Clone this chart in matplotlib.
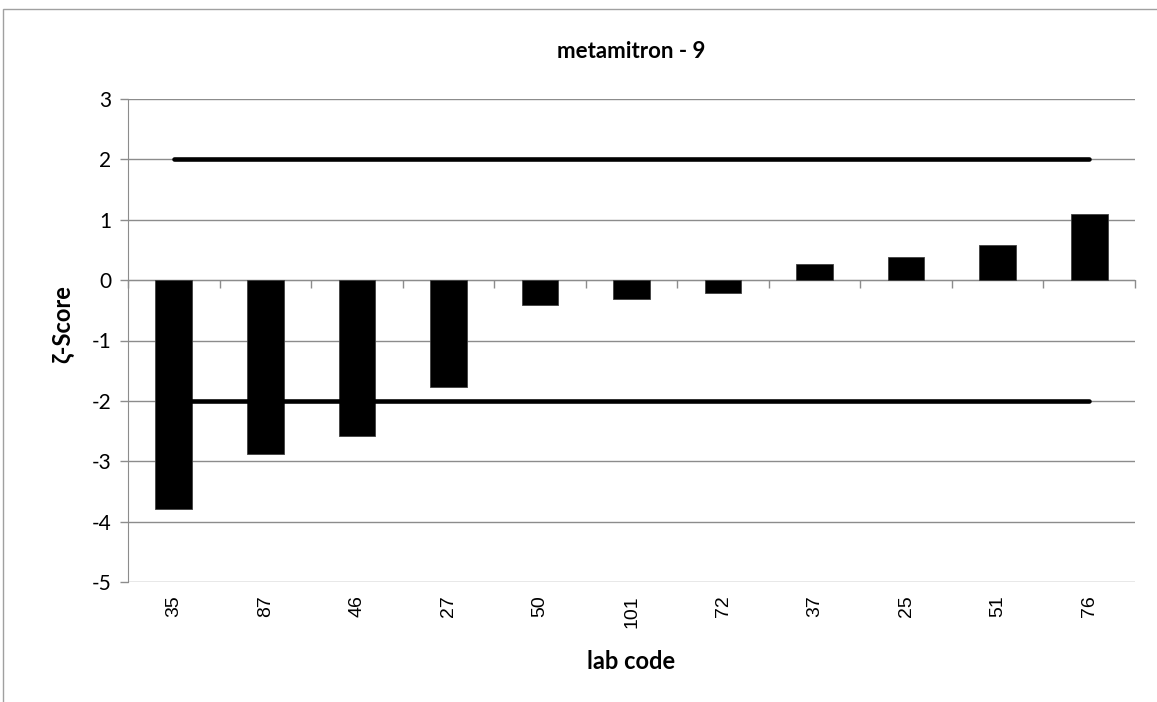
#ζスコア 棒グラフ (metamitron - 9)

import numpy as np
import matplotlib.pyplot as plt
from matplotlib.patches import Rectangle

# データ
lab_codes = ['35', '87', '46', '27', '50', '101', '72', '37', '25', '51', '76']
z_scores = [-3.79, -2.88, -2.58, -1.77, -0.41, -0.32, -0.22, 0.26, 0.39, 0.58, 1.10]
upper_limit = 2
lower_limit = -2
y_ticks = [-5, -4, -3, -2, -1, 0, 1, 2, 3]

grid_col = '#8c8c8c'
n = len(lab_codes)
x = np.arange(n)

fig = plt.figure(figsize=(11.57, 7.02), dpi=100)
ax = fig.add_axes([128 / 1157, 1 - 582 / 702, (1135 - 128) / 1157, (582 - 99) / 702])

# 外枠
fig.patches.append(Rectangle((3 / 1157, -0.05), 1.1, 1 - 9 / 702 + 0.05,
                             transform=fig.transFigure, fill=False,
                             edgecolor='#a0a0a0', linewidth=1.0))

# 棒
ax.bar(x, z_scores, width=0.4, color='black', edgecolor='#404040', linewidth=0.6, zorder=3)

# 限界線 (+2 / -2)
ax.plot(x, [upper_limit] * n, color='black', linewidth=3.3, solid_capstyle='round', zorder=4)
ax.plot(x, [lower_limit] * n, color='black', linewidth=3.3, solid_capstyle='round', zorder=4)

ax.set_xlim(-0.5, n - 0.5)
ax.set_ylim(min(y_ticks), max(y_ticks))
ax.set_yticks(y_ticks)
ax.set_yticklabels([str(v) for v in y_ticks], family=['Lato', 'DejaVu Sans'], fontsize=15)
ax.yaxis.grid(True, color=grid_col, linewidth=1.0, zorder=0)

# 横軸は0の位置
ax.spines['bottom'].set_position(('data', 0))
ax.spines['bottom'].set_color(grid_col)
ax.spines['left'].set_color(grid_col)
ax.spines['top'].set_visible(False)
ax.spines['right'].set_visible(False)
ax.set_xticks(np.arange(n + 1) - 0.5)
ax.set_xticklabels([])
ax.tick_params(axis='x', direction='out', length=6, color=grid_col, width=1.0)
ax.tick_params(axis='y', direction='out', length=6, color=grid_col, width=1.0, pad=6)

# ラベル (下端)
for i, lab in enumerate(lab_codes):
    ax.text(i, -0.028, lab, transform=ax.get_xaxis_transform(), rotation=90,
            ha='center', va='top', fontsize=14, family=['Liberation Sans', 'DejaVu Sans'])

ax.text(0.5, 1 + (99 - 52) / 483, 'metamitron - 9', transform=ax.transAxes,
        ha='center', va='center', fontsize=16, fontweight='bold',
        family=['Lato', 'DejaVu Sans'])
ax.text(0.5, -0.165, 'lab code', transform=ax.transAxes, ha='center', va='center',
        fontsize=17, fontweight='bold', family=['Lato', 'DejaVu Sans'])
ax.text(-0.066, 0.535, 'ζ-Score', transform=ax.transAxes, ha='center', va='center',
        rotation=90, fontsize=17, fontweight='bold', family=['Lato', 'DejaVu Sans'])

plt.savefig('out.png', dpi=100)
